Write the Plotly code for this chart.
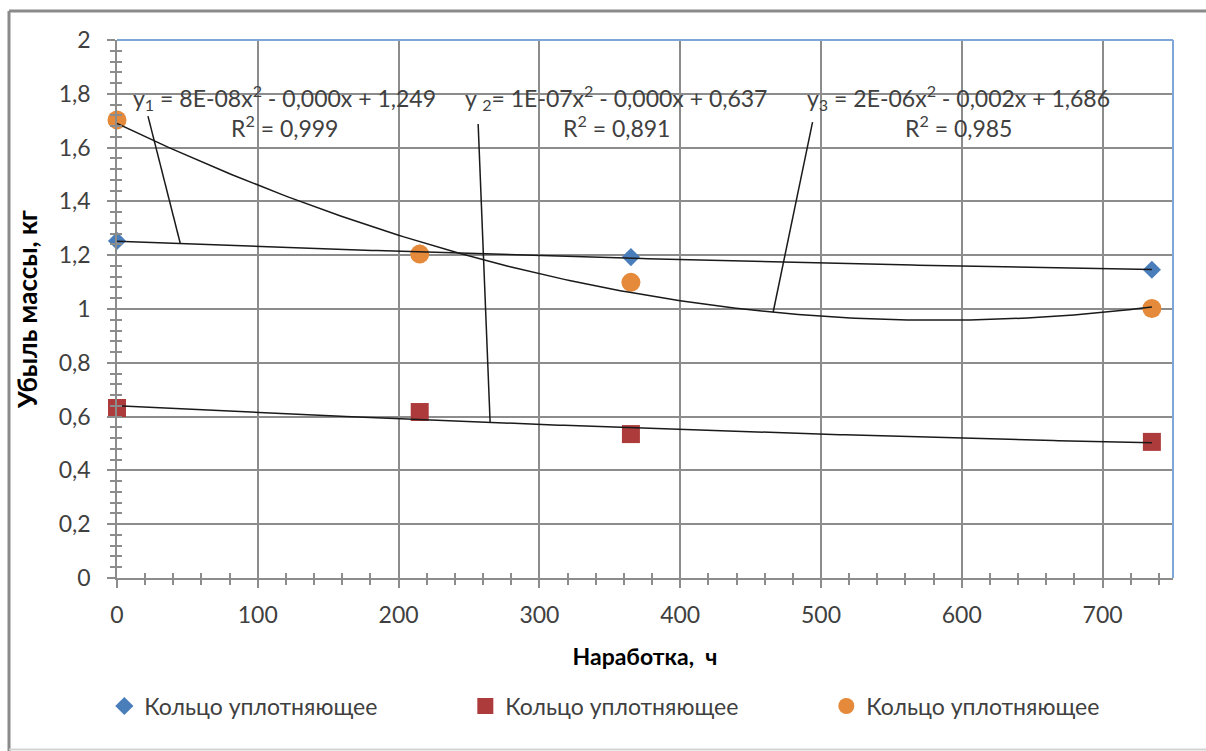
import numpy as np
import plotly.graph_objects as go

# ---- data ----
hours = [0, 215, 365, 735]
series_names = ["Кольцо уплотняющее", "Кольцо уплотняющее", "Кольцо уплотняющее"]
loss_1 = [1.253, 1.207, 1.193, 1.146]   # blue diamonds
loss_2 = [0.632, 0.617, 0.535, 0.506]   # red squares
loss_3 = [1.703, 1.204, 1.099, 1.002]   # orange circles

eq_1 = ["y<sub>1</sub> = 8E-08x<sup>2</sup> - 0,000x + 1,249", "R<sup>2</sup> = 0,999"]
eq_2 = ["y <sub>2</sub>= 1E-07x<sup>2</sup> - 0,000x + 0,637", "R<sup>2</sup> = 0,891"]
eq_3 = ["y<sub>3</sub> = 2E-06x<sup>2</sup> - 0,002x + 1,686", "R<sup>2</sup> = 0,985"]

x_title = "Наработка,  ч"
y_title = "Убыль массы, кг"

colors = ["#4A7EBB", "#AE3B3B", "#E5893A"]
symbols = ["diamond", "square", "circle"]
sizes = [14, 18, 19]
FONT = "Lato"
FS = 23

fig = go.Figure()
all_series = [loss_1, loss_2, loss_3]
for vals, name, c, s, sz in zip(all_series, series_names, colors, symbols, sizes):
    fig.add_trace(go.Scatter(x=hours, y=vals, mode="markers", name=name,
                             marker=dict(symbol=s, color=c, size=sz, line=dict(width=0)),
                             cliponaxis=False))

# polynomial (order 2) trendlines, as in the original
fits = [np.poly1d(np.polyfit(hours, v, 2)) for v in all_series]
xs = np.linspace(hours[0], hours[-1], 200)
for f in fits:
    fig.add_trace(go.Scatter(x=xs, y=f(xs), mode="lines", showlegend=False,
                             line=dict(color="#1a1a1a", width=1.5), hoverinfo="skip"))

GRID = "#8c8c8c"
BLUE = "#7EA6D9"

common_axis = dict(showgrid=True, gridcolor=GRID, gridwidth=1.5, showline=True,
                   linecolor=GRID, linewidth=1.5, ticks="outside", ticklen=8,
                   tickcolor=GRID, tickwidth=1.5, zeroline=False,
                   tickfont=dict(family=FONT, size=FS, color="#404040"))

fig.update_layout(
    width=1206, height=751,
    margin=dict(l=117, r=33, t=40, b=173),
    paper_bgcolor="white", plot_bgcolor="white",
    separators=", ",
    font=dict(family=FONT, size=FS, color="#404040"),
    xaxis=dict(range=[0, 750], dtick=100, tick0=0, ticklabelstandoff=8,
               minor=dict(dtick=20, ticks="outside", ticklen=5, tickcolor=GRID, tickwidth=1.5, showgrid=False),
               title=dict(text="<b>" + x_title + "</b>", font=dict(family=FONT, size=23, color="#000"), standoff=22),
               **common_axis),
    yaxis=dict(range=[0, 2], dtick=0.2, tick0=0, ticklabelstandoff=12,
               minor=dict(dtick=0.04, ticks="outside", ticklen=5, tickcolor=GRID, tickwidth=1.5, showgrid=False),
               title=dict(text="<b>" + y_title + "</b>", font=dict(family=FONT, size=26, color="#000"), standoff=14),
               **common_axis),
    xaxis2=dict(overlaying="x", matches="x", anchor="y", side="bottom", showgrid=False,
                showticklabels=False, ticks="inside", ticklen=5, tickcolor=GRID, tickwidth=1.5,
                dtick=100, tick0=0, range=[0, 750], zeroline=False, showline=False,
                minor=dict(dtick=20, ticks="inside", ticklen=5, tickcolor=GRID, tickwidth=1.5, showgrid=False)),
    yaxis2=dict(overlaying="y", matches="y", anchor="x", side="left", showgrid=False,
                showticklabels=False, ticks="inside", ticklen=5, tickcolor=GRID, tickwidth=1.5,
                dtick=0.2, tick0=0, range=[0, 2], zeroline=False, showline=False,
                minor=dict(dtick=0.04, ticks="inside", ticklen=5, tickcolor=GRID, tickwidth=1.5, showgrid=False)),
    legend=dict(orientation="h", x=-0.012, xanchor="left", y=-0.238, yanchor="middle",
                entrywidth=316, entrywidthmode="pixels", itemwidth=30,
                font=dict(family=FONT, size=FS, color="#404040"), bgcolor="rgba(0,0,0,0)"),
    showlegend=True,
)

# invisible trace so overlay axes are drawn
fig.add_trace(go.Scatter(x=[0], y=[0], xaxis="x2", yaxis="y2", mode="markers",
                         marker=dict(opacity=0), showlegend=False, hoverinfo="skip"))

# plot-area top/right border (blue)
fig.add_shape(type="line", xref="paper", yref="paper", x0=0, x1=1, y0=1, y1=1, line=dict(color=BLUE, width=2))
fig.add_shape(type="line", xref="paper", yref="paper", x0=1, x1=1, y0=0, y1=1, line=dict(color=BLUE, width=2))

# outer chart frame
W, H = 1056.0, 538.0
def px(xp):
    return (xp - 117) / W
def py(yp):
    return (578 - yp) / H
fig.add_shape(type="line", xref="paper", yref="paper", x0=px(9), x1=px(9), y0=py(11), y1=py(751),
              line=dict(color="#8a8a8a", width=3))
fig.add_shape(type="line", xref="paper", yref="paper", x0=px(9), x1=px(1206), y0=py(11), y1=py(11),
              line=dict(color="#8a8a8a", width=3))
fig.add_shape(type="line", xref="paper", yref="paper", x0=px(9), x1=px(1206), y0=py(749.5), y1=py(749.5),
              line=dict(color="#d4d4d4", width=2))

# equation labels
label_pos = [(119.3, eq_1), (354.4, eq_2), (597.3, eq_3)]
for xc, (l1, l2) in label_pos:
    fig.add_annotation(x=xc, y=1.788, xref="x", yref="y", text=l1, showarrow=False,
                       font=dict(family=FONT, size=FS, color="#404040"), xanchor="center", yanchor="middle")
    fig.add_annotation(x=xc, y=1.677, xref="x", yref="y", text=l2, showarrow=False,
                       font=dict(family=FONT, size=FS, color="#404040"), xanchor="center", yanchor="middle")

# leader lines from labels to trendlines
leaders = [((22, 1.717), 45, 0), ((256.5, 1.688), 265, 1), ((494, 1.695), 466, 2)]
for (sx, sy), ex, k in leaders:
    fig.add_shape(type="line", xref="x", yref="y", x0=sx, y0=sy, x1=ex, y1=float(fits[k](ex)),
                  line=dict(color="#1a1a1a", width=1.5))

fig.write_html("out.html")
